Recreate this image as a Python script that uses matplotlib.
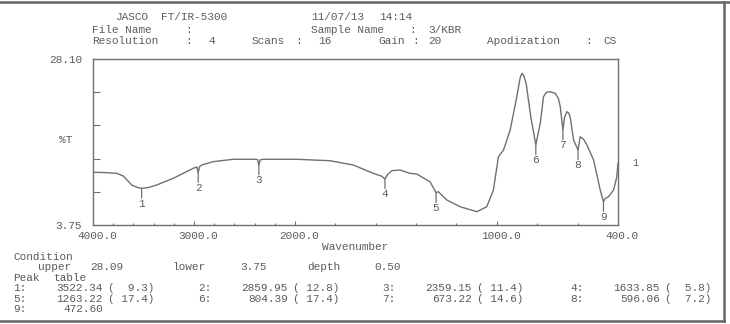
"""JASCO FT/IR-5300 printout — %T spectrum with peak table."""
import numpy as np
import matplotlib
matplotlib.use('Agg')
import matplotlib.pyplot as plt
from matplotlib.lines import Line2D
from matplotlib.transforms import ScaledTranslation

# spectrum (wavenumber cm-1, %T)
wavenumber = [3997, 3900, 3765, 3700, 3617, 3560, 3518, 3450, 3369, 3205, 3007,
              2970, 2958, 2945, 2924, 2809, 2611, 2396, 2370, 2357, 2345, 2314,
              1992, 1827, 1711, 1612, 1570, 1554, 1540, 1520, 1480, 1430, 1397,
              1331, 1301, 1290, 1248, 1182, 1099, 1050, 1017, 992, 967, 934,
              901, 885, 876, 866, 855, 832, 807, 785, 769, 755, 736, 711, 695,
              686, 673, 665, 653, 645, 637, 620, 598, 587, 570, 554, 521, 488,
              472, 463, 447, 422, 406, 400]
transmit = [11.48, 11.45, 11.33, 10.94, 9.62, 9.25, 9.13, 9.25, 9.62, 10.60, 12.07,
            12.25, 11.42, 12.30, 12.55, 13.04, 13.39, 13.39, 13.35, 12.55, 13.30, 13.39,
            13.39, 13.18, 12.55, 11.33, 10.90, 10.50, 11.20, 11.72, 11.82, 11.33, 11.23,
            10.10, 8.49, 8.63, 7.42, 6.43, 5.70, 6.43, 8.88, 13.77, 14.75, 17.69,
            22.57, 25.30, 26.00, 25.60, 24.54, 19.64, 15.50, 18.67, 22.57, 23.20, 23.30, 23.07, 22.30,
            21.10, 17.69, 19.50, 20.37, 20.20, 19.64, 16.22, 14.75, 16.70, 16.30, 15.50, 13.30, 8.88,
            7.17, 7.66, 7.90, 8.88, 10.80, 12.80]

# where the numbered peak markers sit on the plot
marker_wn = [3518, 2958, 2357, 1554, 1301, 807, 673, 598, 472]

# peak table as printed
peak_wn = [3522.34, 2859.95, 2359.15, 1633.85, 1263.22, 804.39, 673.22, 596.06, 472.60]
peak_t = [9.3, 12.8, 11.4, 5.8, 17.4, 17.4, 14.6, 7.2, None]

y_lo, y_hi = 3.75, 28.10
x_ticks = [4000, 3000, 2000, 1000, 400]
x_ticklabels = ['4000.0', '3000.0', '2000.0', '1000.0', '400.0']

INK = '#5c5c5c'
LINE = '#707070'
MONO = 'Liberation Mono'
FS = 8
W, H = 730, 324


def fwd(x):
    x = np.asarray(x, dtype=float)
    return np.where(x > 2000, 2000 + (x - 2000) / 2, x)


def inv(y):
    y = np.asarray(y, dtype=float)
    return np.where(y > 2000, 2000 + (y - 2000) * 2, y)


def ftext(px, py, s, ha='left'):
    fig.text(px / W, 1 - py / H, s, family=MONO, fontsize=FS, color=INK,
             va='center', ha=ha)


fig = plt.figure(figsize=(W / 100, H / 100), dpi=100)
ax = fig.add_axes([93 / W, 1 - 225 / H, (618 - 93) / W, (225 - 59) / H])

ax.plot(wavenumber, transmit, color=LINE, lw=1.0)
ax.set_xscale('function', functions=(fwd, inv))
ax.set_xlim(4000, 400)
ax.set_ylim(y_lo, y_hi)

# numbered peak markers
xs = np.array(wavenumber[::-1], dtype=float)
ys = np.array(transmit[::-1], dtype=float)
for n, w in enumerate(marker_wn, start=1):
    t = np.interp(w, xs, ys)
    ax.annotate('', xy=(w, t), xytext=(0, -7), textcoords='offset points',
                arrowprops=dict(arrowstyle='-', color=LINE, lw=0.9, shrinkA=0, shrinkB=0))
    ax.annotate(str(n), xy=(w, t), xytext=(0, -11), textcoords='offset points',
                ha='center', va='center', family=MONO, fontsize=FS, color=INK)
ax.annotate('1', xy=(400, transmit[-1]), xytext=(10, 0), textcoords='offset points',
            ha='left', va='center', family=MONO, fontsize=7, color=INK,
            annotation_clip=False)

for s in ax.spines.values():
    s.set_color(LINE)
    s.set_linewidth(1.0)

ax.set_xticks(x_ticks)
ax.set_xticklabels(x_ticklabels, family=MONO, fontsize=FS, color=INK)
ax.set_xticks(np.arange(3800, 400, -200), minor=True)
ax.tick_params(axis='x', which='major', direction='in', length=3, width=0.8,
               color=LINE, pad=4)
ax.tick_params(axis='x', which='minor', direction='in', length=1.6, width=0.8,
               color=LINE)
for lab in ax.get_xticklabels():
    lab.set_transform(lab.get_transform() + ScaledTranslation(0.04, 0, fig.dpi_scale_trans))

yt = np.linspace(y_lo, y_hi, 6)
ax.set_yticks(yt)
ax.set_yticklabels(['3.75', '', '', '', '', '28.10'], family=MONO, fontsize=FS, color=INK)
ax.tick_params(axis='y', which='major', direction='in', length=5, width=0.8,
               color=LINE, pad=8)
ax.set_xlabel('Wavenumber', family=MONO, fontsize=FS, color=INK, labelpad=1)
ftext(66, 140, '%T', ha='center')

# header (printer pitch is wider than the font, so place words at their columns)
header = [(116, 17, 'JASCO'), (161, 17, 'FT/IR-5300'),
          (311, 17, '11/07/13'), (379, 17, '14:14'),
          (92, 30, 'File Name'), (185, 30, ':'),
          (311, 30, 'Sample Name'), (409, 30, ':'), (428, 30, '3/KBR'),
          (92, 41, 'Resolution'), (185, 41, ':'), (208, 41, '4'),
          (252, 41, 'Scans'), (295, 41, ':'), (318, 41, '16'),
          (378, 41, 'Gain'), (412, 41, ':'), (428, 41, '20'),
          (487, 41, 'Apodization'), (585, 41, ':'), (603, 41, 'CS')]
for px, py, s in header:
    ftext(px, py, s)

# condition + peak table
ftext(13, 257, 'Condition')
for s, px in [('upper', 38), ('28.09', 90), ('lower', 173), ('3.75', 240),
              ('depth', 307), ('0.50', 374)]:
    ftext(px, 267, s)
ftext(13, 278, 'Peak')
ftext(54, 278, 'table')
col_x = [13, 198, 382, 570]
row_y = [288, 299, 309]
for i, (w, t) in enumerate(zip(peak_wn, peak_t)):
    cx, ry = col_x[i % 4], row_y[i // 4]
    ftext(cx, ry, f'{i + 1}:')
    ftext(cx + 90, ry, f'{w:.2f}', ha='right')
    if t is not None:
        ftext(cx + 118, ry, f'({t:5.1f})', ha='center')

# page frame
for xy in [([0, 1], [1 - 1.5 / H] * 2), ([724 / W] * 2, [1 - 321 / H, 1 - 1.5 / H]),
           ([0, 724 / W], [1 - 321 / H] * 2)]:
    fig.add_artist(Line2D(xy[0], xy[1], color='#666666', lw=1.8))

plt.savefig('out.png', dpi=100)
